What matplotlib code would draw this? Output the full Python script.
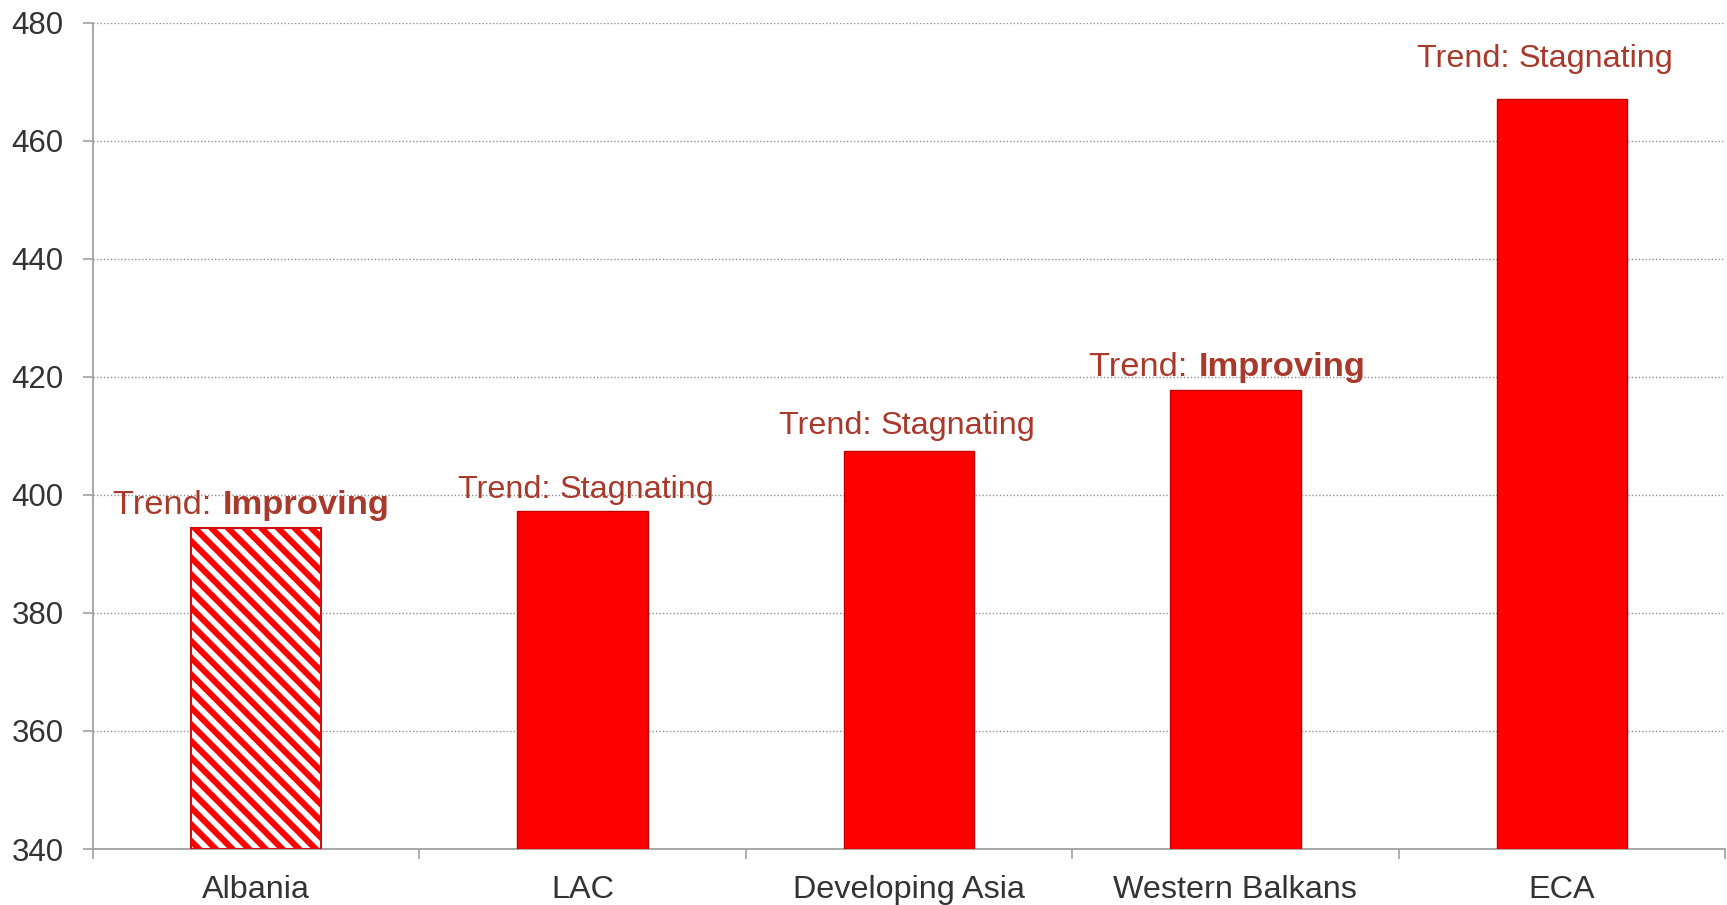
import matplotlib
matplotlib.use("Agg")
import matplotlib.pyplot as plt
from matplotlib.transforms import offset_copy

plt.rcParams['font.family'] = ['Liberation Sans', 'DejaVu Sans']
plt.rcParams['hatch.linewidth'] = 4.4

categories = ["Albania", "LAC", "Developing Asia", "Western Balkans", "ECA"]
values = [394.4, 397.2, 407.5, 417.8, 467.0]
trend_words = ["Improving", "Stagnating", "Stagnating", "Improving", "Stagnating"]
trend_bold = [True, False, False, True, False]
yticks = [340, 360, 380, 400, 420, 440, 460, 480]

text_color = '#A8392B'
tick_color = '#333333'
axis_color = '#A0A0A0'
FS = 23.3

fig = plt.figure(figsize=(17.27, 9.05), dpi=100)
ax = fig.add_axes([93/1727, 1-849/905, (1725-93)/1727, (849-22.7)/905])

x = list(range(len(categories)))
for i, (c, v) in enumerate(zip(categories, values)):
    if i == 0:
        ax.bar(i, v - 340, bottom=340, width=0.40, facecolor='white',
               edgecolor='#FF0000', hatch='\\\\', linewidth=0, zorder=3)
        ax.bar(i, v - 340, bottom=340, width=0.40, facecolor='none',
               edgecolor='#D01010', linewidth=1.5, zorder=4)
    else:
        ax.bar(i, v - 340, bottom=340, width=0.40, facecolor='#FF0000',
               edgecolor='#C00000', linewidth=1.0, zorder=3)

ax.set_xlim(-0.5, 4.5)
ax.set_ylim(340, 480)
ax.set_yticks(yticks)
ax.set_xticks(x)
ax.set_xticklabels(categories)
ax.set_xticks([-0.5, 0.5, 1.5, 2.5, 3.5, 4.5], minor=True)
ax.tick_params(axis='x', which='major', length=0, pad=18.5, labelsize=FS, labelcolor=tick_color)
ax.tick_params(axis='x', which='minor', length=7, width=1.2, color=axis_color, direction='out')
ax.tick_params(axis='y', length=7, width=1.2, color=axis_color, pad=14, labelsize=22.5, labelcolor=tick_color)

for s in ['top', 'right']:
    ax.spines[s].set_visible(False)
for s in ['left', 'bottom']:
    ax.spines[s].set_color(axis_color)
    ax.spines[s].set_linewidth(1.3)
ax.yaxis.grid(True, linestyle=(0, (1, 1.5)), color='#909090', linewidth=1.0, zorder=0)
ax.set_axisbelow(True)

fig.canvas.draw()
renderer = fig.canvas.get_renderer()
offsets_pt = [10, 10, 12, 10, 23]
xoff_px = [-5, 4, -2, -8, -17]
for i, (v, w, b) in enumerate(zip(values, trend_words, trend_bold)):
    fs = FS * 1.065 if b else FS
    t1 = ax.text(0, 0, "Trend: ", fontsize=fs, color=text_color)
    t2 = ax.text(0, 0, w, fontsize=fs, color=text_color, fontweight='bold' if b else 'normal')
    w1 = t1.get_window_extent(renderer).width + (2 if b else 0)
    w2 = t2.get_window_extent(renderer).width
    total = w1 + w2
    base = offset_copy(ax.transData, fig=fig, x=0, y=offsets_pt[i], units='points')
    tr1 = offset_copy(base, fig=fig, x=(-total/2 + xoff_px[i]) * 72/fig.dpi, y=0, units='points')
    tr2 = offset_copy(base, fig=fig, x=(-total/2 + w1 + xoff_px[i]) * 72/fig.dpi, y=0, units='points')
    t1.set_position((i, v)); t1.set_transform(tr1); t1.set_ha('left'); t1.set_va('baseline')
    t2.set_position((i, v)); t2.set_transform(tr2); t2.set_ha('left'); t2.set_va('baseline')
    t1.set_clip_on(False); t2.set_clip_on(False)

fig.savefig("out.png", dpi=100)
